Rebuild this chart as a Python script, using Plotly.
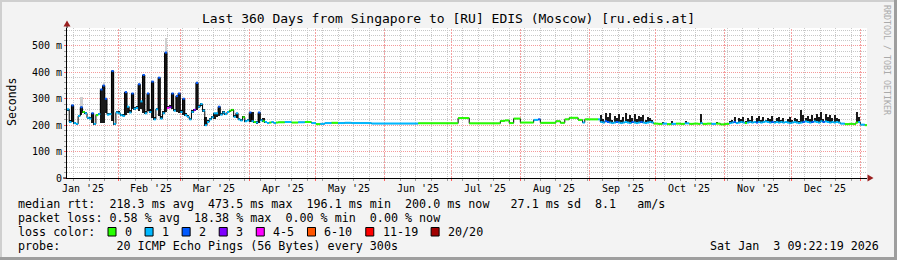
import pandas as pd
import plotly.graph_objects as go

FONT = "DejaVu Sans Mono"
W, H = 897, 260
ML, MR, MT, MB = 67, 30, 28, 82
PW, PH = W - ML - MR, H - MT - MB

START = pd.Timestamp("2025-01-09 00:00")
END = pd.Timestamp("2026-01-04 00:00")
Y_TOP = 568

TITLE = "Last 360 Days from Singapore to [RU] EDIS (Moscow) [ru.edis.at]"
Y_TITLE = "Seconds"
MONTH_LABELS = ["Jan '25", "Feb '25", "Mar '25", "Apr '25", "May '25", "Jun '25",
                "Jul '25", "Aug '25", "Sep '25", "Oct '25", "Nov '25", "Dec '25"]
Y_TICKS = [0, 100, 200, 300, 400, 500]
Y_TICK_TEXT = ["0", "100 m", "200 m", "300 m", "400 m", "500 m"]

LOSS_LABELS = ["0", "1", "2", "3", "4-5", "6-10", "11-19", "20/20"]
LOSS_COLORS = ["#26ff00", "#00b8ff", "#0059ff", "#7e00ff", "#ff00ff",
               "#ff5500", "#ff0000", "#a10000"]

LEGEND_ROWS = [
    "median rtt:  218.3 ms avg  473.5 ms max  196.1 ms min  200.0 ms now   27.1 ms sd  8.1   am/s",
    "packet loss: 0.58 % avg  18.38 % max  0.00 % min  0.00 % now",
    "loss color:",
    "probe:        20 ICMP Echo Pings (56 Bytes) every 300s",
]
STAMP = "Sat Jan  3 09:22:19 2026"
WATERMARK = "RRDTOOL / TOBI OETIKER"

# ---- median RTT samples: day offset from start, value (ms), loss class ----
med_day = [
    0, 1, 2, 3, 4, 5, 6, 7, 8, 9, 10, 11, 12, 13, 14, 15, 16, 17, 18, 19,
    20, 21, 22, 23, 24, 25, 26, 27, 28, 29, 30, 31, 32, 33, 34, 35, 36, 37, 38, 39,
    40, 41, 42, 43, 44, 45, 46, 47, 48, 49, 50, 51, 52, 53, 54, 55, 56, 57, 58, 59,
    60, 61, 62, 63, 64, 65, 66, 67, 68, 69, 70, 71, 72, 73, 74, 75, 76, 77, 78, 79,
    80, 81, 82, 83, 84, 85, 86, 87, 88, 89, 90, 91, 92, 93, 94,
    95, 98, 101, 104, 107, 110, 112, 114, 116, 119, 122, 125, 128, 137, 158, 176,
    181, 195, 197, 199, 201, 204, 210, 212, 213, 220, 222, 224, 226, 230, 232, 233, 239,
    240, 241, 242, 243, 244, 245, 246, 247, 248, 249, 250, 251, 252, 253, 254, 255,
    256, 257, 258, 259, 260, 261, 262, 263, 264,
    266, 268, 270, 272, 274, 276, 278, 280, 282, 284, 285, 286, 288, 290, 292, 294, 296, 298,
    299, 300, 301, 302, 303, 304, 305, 306, 307, 308, 309, 310, 311, 312, 313, 314, 315,
    316, 317, 318, 319, 320, 321, 322, 323, 324, 325, 326, 327, 328, 329, 330, 331, 332,
    333, 334, 335, 336, 337, 338, 339, 340, 341, 342, 343, 344, 345, 346, 347, 348,
    350, 352, 354, 355, 356, 357, 359,
]
med_ms = [
    260, 212, 275, 208, 205, 235, 268, 250, 245, 228, 225, 245, 205, 238, 242, 335, 350, 300, 240, 242,
    405, 205, 248, 245, 238, 235, 325, 270, 248, 320, 262, 265, 355, 290, 390, 245, 320, 250, 365, 222,
    260, 380, 225, 245, 475, 265, 268, 320, 255, 310, 320, 250, 300, 238, 232, 222, 250, 258, 360, 270,
    280, 255, 200, 212, 222, 230, 245, 245, 270, 240, 248, 242, 250, 255, 258, 232, 245, 222, 218, 230,
    215, 218, 248, 215, 212, 210, 248, 218, 215, 212, 208, 210, 212, 208, 210,
    211, 212, 210, 211, 212, 208, 204, 205, 208, 209, 208, 209, 208, 206, 207, 227,
    207, 216, 218, 208, 225, 210, 220, 222, 209, 215, 209, 222, 228, 220, 210, 222, 222,
    212, 210, 215, 212, 210, 208, 210, 212, 210, 208, 210, 212, 210, 208, 212, 210,
    208, 210, 212, 210, 208, 210, 212, 210, 206,
    205, 206, 204, 205, 206, 205, 207, 205, 206, 205, 208, 205, 206, 205, 206, 203, 205, 208,
    210, 212, 208, 210, 212, 210, 208, 210, 212, 210, 212, 210, 212, 210, 212, 214, 212,
    210, 212, 210, 212, 210, 212, 210, 212, 210, 208, 210, 212, 210, 208, 210, 212, 214,
    212, 210, 212, 214, 212, 210, 215, 212, 214, 212, 210, 212, 210, 212, 210, 206,
    204, 205, 204, 210, 212, 202, 200,
]
med_loss = [
    1, 1, 2, 1, 1, 1, 2, 0, 1, 1, 1, 2, 1, 0, 1, 2, 2, 2, 1, 1,
    2, 1, 1, 1, 1, 1, 2, 1, 1, 2, 1, 1, 2, 1, 2, 1, 2, 1, 2, 1,
    1, 2, 1, 1, 2, 4, 3, 2, 1, 2, 2, 1, 2, 1, 1, 1, 1, 3, 2, 1,
    1, 1, 1, 1, 1, 1, 1, 1, 2, 1, 1, 1, 1, 0, 0, 1, 1, 1, 1, 0,
    1, 1, 2, 1, 0, 1, 2, 1, 0, 1, 1, 0, 1, 1, 0,
    0, 1, 0, 1, 0, 1, 0, 1, 1, 0, 1, 1, 1, 1, 0, 0,
    0, 0, 0, 0, 0, 0, 1, 2, 0, 0, 0, 0, 0, 0, 1, 0, 1,
    1, 1, 2, 2, 1, 1, 1, 2, 1, 1, 1, 1, 1, 1, 2, 1,
    1, 1, 2, 1, 1, 1, 1, 1, 0,
    0, 1, 0, 1, 0, 0, 1, 0, 0, 0, 1, 0, 0, 1, 0, 0, 0, 1,
    1, 2, 1, 1, 1, 1, 0, 1, 1, 1, 1, 2, 1, 1, 1, 1, 1,
    1, 2, 1, 1, 1, 1, 1, 1, 1, 1, 1, 1, 1, 1, 1, 2, 1, 1,
    1, 2, 1, 1, 1, 1, 2, 1, 1, 1, 1, 1, 1, 1, 1, 0,
    0, 0, 0, 1, 1, 0, 0,
]

# ---- dark smoke, Jan-Mar (explicit low / high, ms) ----
early_day = [
    0, 1, 2, 3, 4, 5, 6, 7, 8, 9, 10, 11, 12, 13, 14, 15, 16, 17, 18, 19,
    20, 21, 22, 23, 24, 25, 26, 27, 28, 29, 30, 31, 32, 33, 34, 35, 36, 37, 38, 39,
    40, 41, 42, 43, 44, 45, 46, 47, 48, 49, 50, 51, 52, 53, 54, 55, 56, 57, 58, 59,
    60, 61, 62, 63, 64, 65, 66, 67, 68, 69, 70, 71, 72, 73, 74, 75, 76, 77, 78, 79,
    80, 81, 82, 83, 84, 85, 86, 87, 88, 89, 90,
]
early_lo = [
    255, 210, 212, 205, 203, 232, 240, 248, 242, 226, 222, 207, 203, 236, 240, 210, 208, 245, 238, 240,
    215, 203, 246, 243, 236, 233, 240, 248, 246, 262, 258, 262, 255, 262, 248, 243, 255, 248, 228, 220,
    256, 235, 223, 243, 250, 262, 265, 260, 252, 250, 248, 248, 240, 236, 230, 220, 248, 255, 258, 265,
    272, 250, 198, 210, 220, 228, 225, 230, 235, 238, 245, 240, 248, 252, 255, 230, 228, 220, 216, 228,
    213, 216, 212, 212, 210, 208, 210, 216, 213, 210, 206,
]
early_hi = [
    262, 218, 275, 212, 210, 240, 270, 255, 250, 232, 230, 245, 210, 242, 246, 335, 350, 300, 246, 248,
    405, 210, 255, 252, 244, 242, 325, 270, 256, 320, 268, 272, 355, 290, 390, 255, 320, 262, 365, 232,
    266, 380, 235, 252, 475, 272, 275, 320, 262, 310, 320, 258, 300, 245, 238, 228, 256, 262, 360, 275,
    285, 260, 230, 218, 228, 236, 245, 248, 270, 246, 252, 248, 255, 258, 262, 238, 245, 228, 224, 234,
    220, 222, 248, 250, 216, 214, 248, 222, 228, 216, 212,
]

# ---- dark smoke, Sep-Dec (top of spread above the median, ms) ----
late_day = [
    240, 241, 242, 243, 244, 245, 246, 247, 248, 249, 250, 251, 252, 253, 254, 255,
    256, 257, 258, 259, 260, 261, 262, 263, 268, 272, 278, 285, 292, 298,
    299, 300, 301, 302, 303, 304, 305, 306, 307, 308, 309, 310, 311, 312, 313, 314, 315,
    316, 317, 318, 319, 320, 321, 322, 323, 324, 325, 326, 327, 328, 329, 330, 331, 332,
    333, 334, 335, 336, 337, 338, 339, 340, 341, 342, 343, 344, 345, 346, 347, 355, 356,
]
late_top = [
    238, 222, 248, 230, 245, 218, 236, 226, 242, 220, 232, 246, 224, 238, 228, 244,
    222, 236, 230, 240, 218, 232, 226, 220, 212, 215, 215, 242, 213, 215,
    218, 230, 212, 226, 222, 232, 214, 228, 220, 234, 216, 226, 236, 220, 230, 218, 228,
    222, 234, 216, 226, 232, 220, 228, 214, 224, 230, 218, 226, 222, 216, 258, 240, 226,
    236, 222, 238, 228, 242, 232, 250, 224, 244, 230, 238, 226, 240, 228, 222, 250, 232,
]

# ---- light smoke above the largest spikes ----
light_day = [6, 16, 20, 44, 58]
light_top = [308, 362, 410, 532, 366]


def to_t(d):
    return START + pd.Timedelta(days=d)


def px(x):
    return (x - ML) / PW


def py(y):
    return (H - MB - y) / PH


def snap_date(t):
    """Move a date onto the centre of the screen pixel it falls in (crisp grid)."""
    span = (END - START)
    pix = ML + (t - START) / span * PW
    pix = int(pix) + 0.5
    return START + (pix - ML) / PW * span


DAY_MS = 86400000
med_lookup = dict(zip(med_day, med_ms))

fig = go.Figure()

fig.add_trace(go.Bar(
    x=[to_t(d + 0.5) for d in light_day],
    base=[med_lookup[d] for d in light_day],
    y=[t - med_lookup[d] for d, t in zip(light_day, light_top)],
    width=DAY_MS, marker=dict(color="#cfcfcf", line=dict(width=0)),
    hoverinfo="skip", showlegend=False))

fig.add_trace(go.Bar(
    x=[to_t(d + 0.5) for d in early_day],
    base=early_lo,
    y=[h - l for l, h in zip(early_lo, early_hi)],
    width=DAY_MS * 0.85, marker=dict(color="#1a1a1a", line=dict(width=0)),
    hoverinfo="skip", showlegend=False))

fig.add_trace(go.Bar(
    x=[to_t(d + 0.5) for d in late_day],
    base=[med_lookup[d] for d in late_day],
    y=[t - med_lookup[d] for d, t in zip(late_day, late_top)],
    width=DAY_MS * 0.7, marker=dict(color="#1a1a1a", line=dict(width=0)),
    hoverinfo="skip", showlegend=False))

fig.add_trace(go.Scatter(
    x=[to_t(d) for d in med_day] + [END], y=med_ms + [med_ms[-1]],
    mode="lines", line=dict(color="#000000", width=1, shape="hv"),
    hoverinfo="skip", showlegend=False))

ends = med_day[1:] + [360]
for c, col in enumerate(LOSS_COLORS):
    sx, sy = [], []
    for d, e, v, l in zip(med_day, ends, med_ms, med_loss):
        if l == c:
            sx += [to_t(d), to_t(e), None]
            sy += [v, v, None]
    if sx:
        fig.add_trace(go.Scatter(x=sx, y=sy, mode="lines",
                                 line=dict(color=col, width=2),
                                 hoverinfo="skip", showlegend=False))

month_starts = pd.date_range("2025-02-01", "2026-01-01", freq="MS")
week_lines = pd.date_range("2025-01-12", "2026-01-03", freq="7D")
MAJOR_GRID = "#f49a9a"
MINOR_GRID = "#c8c8c8"

fig.update_layout(
    width=W, height=H,
    margin=dict(l=ML, r=MR, t=MT, b=MB, pad=0),
    paper_bgcolor="#f3f3f3", plot_bgcolor="#ffffff",
    barmode="overlay", bargap=0,
    font=dict(family=FONT, size=10, color="#000000"),
    xaxis=dict(
        type="date", range=[START, END], fixedrange=True,
        tickmode="array", tickvals=list(month_starts), showticklabels=False,
        showgrid=False,
        ticks="outside", ticklen=2, tickcolor="#ff6060",
        minor=dict(tickmode="array", tickvals=list(week_lines), showgrid=True,
                   gridcolor=MINOR_GRID, griddash="1px,1px", gridwidth=1,
                   ticks="outside", ticklen=2, tickcolor="#a0a0a0"),
        showline=True, linecolor="#000000", linewidth=1, zeroline=False),
    yaxis=dict(
        range=[0, Y_TOP], fixedrange=True,
        tickmode="array", tickvals=Y_TICKS, ticktext=Y_TICK_TEXT,
        tickfont=dict(family=FONT, size=10, color="#000000"),
        showgrid=True, gridcolor=MAJOR_GRID, griddash="1px,1px", gridwidth=1,
        ticks="outside", ticklen=2, tickcolor="#ff6060",
        minor=dict(dtick=20, showgrid=True, gridcolor=MINOR_GRID,
                   griddash="1px,1px", gridwidth=1,
                   ticks="outside", ticklen=2, tickcolor="#a0a0a0"),
        showline=True, linecolor="#000000", linewidth=1, zeroline=False),
)

ann = []
ann.append(dict(text=TITLE, x=px(448), y=py(18), xref="paper", yref="paper",
                xanchor="center", yanchor="middle", showarrow=False,
                font=dict(family=FONT, size=13, color="#000000")))
ann.append(dict(text=Y_TITLE, x=px(12), y=py(102), xref="paper", yref="paper",
                xanchor="center", yanchor="middle", showarrow=False, textangle=-90,
                font=dict(family=FONT, size=11.5, color="#000000")))
ann.append(dict(text=WATERMARK, x=px(887), y=py(60), xref="paper", yref="paper",
                xanchor="center", yanchor="middle", showarrow=False, textangle=90,
                font=dict(family=FONT, size=8.3, color="#aaaaaa")))
for i, lab in enumerate(MONTH_LABELS):
    ann.append(dict(text=lab, x=pd.Timestamp(2025, i + 1, 16), y=py(188),
                    xref="x", yref="paper", xanchor="center", yanchor="middle",
                    showarrow=False, font=dict(family=FONT, size=10, color="#000000")))
row_y = [204, 218, 232, 246]
for txt, ry in zip(LEGEND_ROWS, row_y):
    ann.append(dict(text=txt, x=px(16), y=py(ry), xref="paper", yref="paper",
                    xanchor="left", yanchor="middle", showarrow=False,
                    font=dict(family=FONT, size=11.7, color="#000000")))
ann.append(dict(text=STAMP, x=px(881), y=py(246), xref="paper", yref="paper",
                xanchor="right", yanchor="middle", showarrow=False,
                font=dict(family=FONT, size=11.7, color="#000000")))

shapes = []
# month-start grid lines (major vertical grid), drawn between grid and traces
for m in month_starts:
    ms = snap_date(m)
    shapes.append(dict(type="line", xref="x", yref="y", layer="between",
                       x0=ms, x1=ms, y0=0, y1=Y_TOP,
                       line=dict(color="#f4a0a0", width=1, dash="2px,1px")))

CW = 7.07
bx = 108
for lab, col in zip(LOSS_LABELS, LOSS_COLORS):
    shapes.append(dict(type="rect", xref="paper", yref="paper",
                       x0=px(bx), x1=px(bx + 8), y0=py(236), y1=py(227.5),
                       fillcolor=col, line=dict(color="#000000", width=1)))
    ann.append(dict(text=lab, x=px(bx + 15), y=py(232), xref="paper", yref="paper",
                    xanchor="left", yanchor="middle", showarrow=False,
                    font=dict(family=FONT, size=11.7, color="#000000")))
    bx = bx + 15 + len(lab) * CW + 15

ARROW = "#9a1f1f"
shapes.append(dict(type="line", xref="paper", yref="paper",
                   x0=px(67), x1=px(67), y0=py(26), y1=py(28),
                   line=dict(color="#000000", width=1)))
shapes.append(dict(type="path", xref="paper", yref="paper",
                   path=f"M {px(63.5)} {py(26.5)} L {px(70.5)} {py(26.5)} L {px(67)} {py(20.5)} Z",
                   fillcolor=ARROW, line=dict(color=ARROW, width=0)))
shapes.append(dict(type="line", xref="paper", yref="paper",
                   x0=px(63), x1=px(67), y0=py(178), y1=py(178),
                   line=dict(color="#000000", width=1)))
shapes.append(dict(type="path", xref="paper", yref="paper",
                   path=f"M {px(867.5)} {py(174.5)} L {px(867.5)} {py(181.5)} L {px(873.5)} {py(178)} Z",
                   fillcolor=ARROW, line=dict(color=ARROW, width=0)))
# frame shading
shapes.append(dict(type="rect", xref="paper", yref="paper", layer="above",
                   x0=px(0), x1=px(W), y0=py(0), y1=py(2),
                   fillcolor="#cfcfcf", line=dict(width=0)))
shapes.append(dict(type="rect", xref="paper", yref="paper", layer="above",
                   x0=px(0), x1=px(2), y0=py(0), y1=py(H),
                   fillcolor="#cfcfcf", line=dict(width=0)))
shapes.append(dict(type="rect", xref="paper", yref="paper", layer="above",
                   x0=px(W - 3), x1=px(W), y0=py(0), y1=py(H),
                   fillcolor="#9e9e9e", line=dict(width=0)))
shapes.append(dict(type="rect", xref="paper", yref="paper", layer="above",
                   x0=px(0), x1=px(W), y0=py(H - 3), y1=py(H),
                   fillcolor="#9e9e9e", line=dict(width=0)))

fig.update_layout(annotations=ann, shapes=shapes)
fig.write_html("out.html", config={"displayModeBar": False})
